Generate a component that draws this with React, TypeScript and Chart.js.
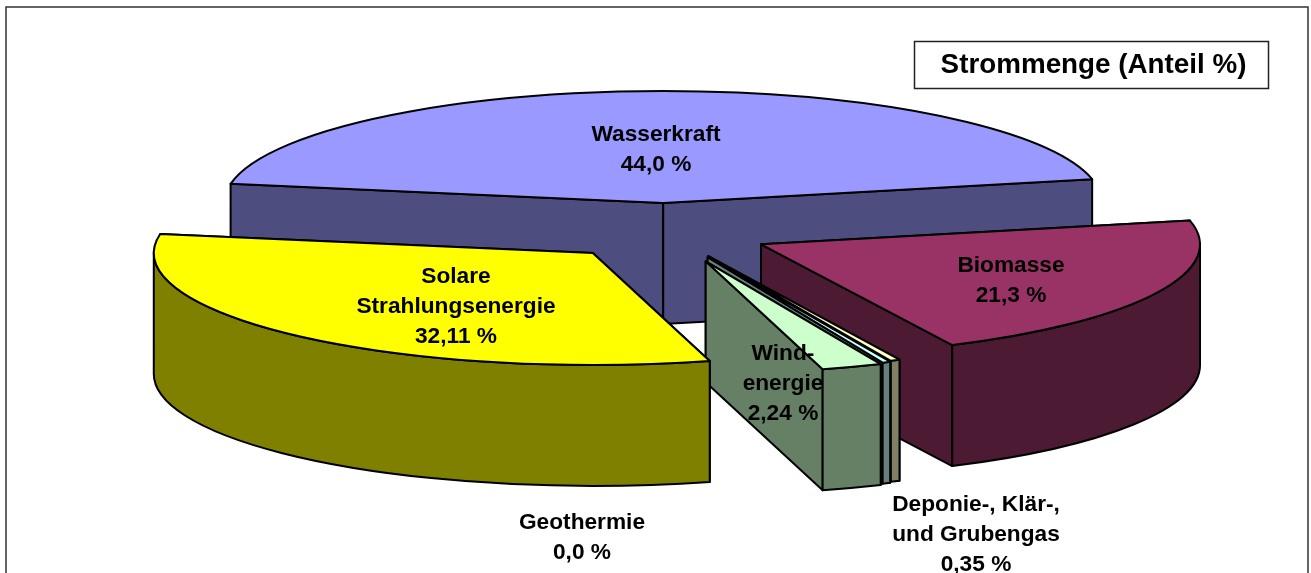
import React, { useEffect, useRef } from "react";
import { Chart, registerables } from "chart.js";

Chart.register(...registerables);

const categories = ["Wasserkraft", "Biomasse", "Deponie-, Klär-, und Grubengas", "Geothermie", "Windenergie", "Solare Strahlungsenergie"];
const values = [44.0, 21.3, 0.35, 0.3, 2.24, 32.11];
const topColors = ["#9999FF", "#993366", "#FFFFCC", "#CCFFFF", "#CCFFCC", "#FFFF00"];
const wallColors = ["#4D4D80", "#4D1A33", "#808066", "#668080", "#668066", "#808000"];

const titleText = "Strommenge (Anteil %)";
const labelLines = [
  ["Wasserkraft", "44,0 %"],
  ["Biomasse", "21,3 %"],
  ["Solare", "Strahlungsenergie", "32,11 %"],
  ["Wind-", "energie", "2,24 %"],
  ["Geothermie", "0,0 %"],
  ["Deponie-, Klär-,", "und Grubengas", "0,35 %"],
];

// projection of the flat pie into the tilted view
const view = { cx: 665.7, cy: 232.5, depth: 121, radius: 439, rotation: -80.2 };
const explode = [116, 106, 100, 103, 120, 108.6];
const tilt = [0.255, 0.255, 0.262, 0.262, 0.255, 0.255];
const labelAnchors = [
  [656, 134.5], [1011, 265.5], [456, 276.5], [783, 353.5], [582, 522.5], [976, 504.5],
];
const LINE = 30;
const FONT = '"Liberation Sans", Arial, sans-serif';

const pie3d = {
  id: "pie3d",
  beforeDatasetDraw(chart: any) {
    const { ctx } = chart;
    const meta = chart.getDatasetMeta(0);
    meta.data.forEach((arc: any, i: number) => {
      const R = arc.outerRadius;
      const a0 = arc.startAngle;
      const a1 = arc.endAngle;
      const mid = (a0 + a1) / 2;
      const k = tilt[i];
      const ax = view.cx + explode[i] * Math.cos(mid);
      const ay = view.cy + k * explode[i] * Math.sin(mid);
      const px = (a: number) => ax + R * Math.cos(a);
      const py = (a: number) => ay + k * R * Math.sin(a);
      const d = view.depth;
      ctx.save();
      ctx.lineWidth = 2;
      ctx.strokeStyle = "#000";
      ctx.lineJoin = "round";
      ctx.fillStyle = wallColors[i];
      // radial walls
      [a0, a1].forEach((a) => {
        ctx.beginPath();
        ctx.moveTo(ax, ay);
        ctx.lineTo(px(a), py(a));
        ctx.lineTo(px(a), py(a) + d);
        ctx.lineTo(ax, ay + d);
        ctx.closePath();
        ctx.fill();
        ctx.stroke();
      });
      // outer wall, front half only
      const f0 = Math.max(a0, 0);
      const f1 = Math.min(a1, Math.PI);
      if (f1 > f0) {
        ctx.beginPath();
        ctx.ellipse(ax, ay, R, k * R, 0, f0, f1);
        ctx.ellipse(ax, ay + d, R, k * R, 0, f1, f0, true);
        ctx.closePath();
        ctx.fill();
        ctx.stroke();
      }
      // top face: the library's arc element under the tilt
      ctx.save();
      ctx.translate(ax, ay);
      ctx.scale(1, k);
      ctx.translate(-arc.x, -arc.y);
      arc.draw(ctx);
      ctx.restore();
      ctx.beginPath();
      ctx.moveTo(ax, ay);
      ctx.ellipse(ax, ay, R, k * R, 0, a0, a1);
      ctx.closePath();
      ctx.stroke();
      ctx.restore();
    });
    return false;
  },
  afterDatasetsDraw(chart: any) {
    const { ctx } = chart;
    ctx.save();
    ctx.textAlign = "center";
    ctx.textBaseline = "middle";
    ctx.fillStyle = "#000";
    ctx.font = `bold 22.7px ${FONT}`;
    labelLines.forEach((lines, i) => {
      lines.forEach((t, j) => ctx.fillText(t, labelAnchors[i][0], labelAnchors[i][1] + j * LINE));
    });
    // frame, open at the bottom of the page
    ctx.strokeStyle = "#333";
    ctx.lineWidth = 1.5;
    ctx.strokeRect(6, 7, 1302, 600);
    // title box
    ctx.fillStyle = "#fff";
    ctx.fillRect(914.5, 41.5, 354, 47);
    ctx.strokeStyle = "#222";
    ctx.strokeRect(914.5, 41.5, 354, 47);
    ctx.fillStyle = "#000";
    ctx.font = `bold 27.8px ${FONT}`;
    ctx.fillText(titleText, 1093.5, 65);
    ctx.restore();
  },
};

export default function App() {
  const ref = useRef<HTMLCanvasElement>(null);
  useEffect(() => {
    const chart = new Chart(ref.current!, {
      type: "pie",
      data: {
        labels: categories,
        datasets: [{ data: values, backgroundColor: topColors, borderWidth: 0 }],
      },
      options: {
        responsive: false,
        animation: false,
        rotation: view.rotation,
        radius: view.radius,
        plugins: { legend: { display: false }, tooltip: { enabled: false }, title: { display: false } },
      },
      plugins: [pie3d],
    } as any);
    return () => chart.destroy();
  }, []);
  return (
    <canvas
      ref={ref}
      width={1311}
      height={573}
      style={{ position: "fixed", left: 0, top: 0, width: 1311, height: 573, display: "block", background: "#fff" }}
    />
  );
}
